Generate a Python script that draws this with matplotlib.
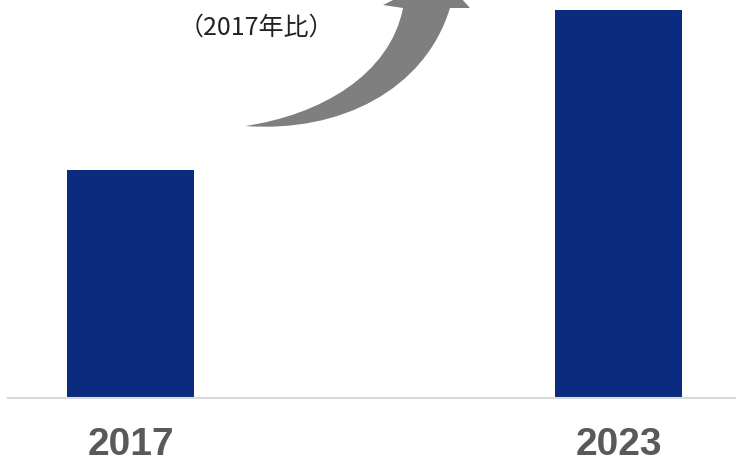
import numpy as np
import matplotlib.pyplot as plt
from matplotlib.path import Path
from matplotlib.patches import PathPatch

years = ['2017', '2023']
values = [100, 170]
note = '（2017年比）'

W, H = 736, 459
fig = plt.figure(figsize=(W / 100, H / 100), dpi=100)

# main bar axes, baseline sits at y=398px from the top
ax = fig.add_axes([8 / W, 61 / H, (W - 8) / W, 398 / H])
x = np.arange(len(years))
ax.bar(x, values, width=0.26, color='#0b2c7e')
ax.set_xlim(-0.251, 1.241)
ax.set_ylim(0, max(values) * 398 / 388)
for s in ['top', 'left', 'right']:
    ax.spines[s].set_visible(False)
ax.spines['bottom'].set_color('#d9d9d9')
ax.spines['bottom'].set_linewidth(1.5)
ax.set_yticks([])
ax.set_xticks(x, years)
ax.tick_params(axis='x', length=0, pad=21)
for lab in ax.get_xticklabels():
    lab.set_fontfamily('Liberation Sans')
    lab.set_fontweight('bold')
    lab.set_fontsize(28)
    lab.set_color('#595959')

# overlay in pixel coords for the arrow and note
ov = fig.add_axes([0, 0, 1, 1])
ov.set_xlim(0, W)
ov.set_ylim(H, 0)
ov.axis('off')
ov.patch.set_alpha(0)

verts = [(245, 126), (340, 133), (425, 90), (450, 8),
         (470, 8), (441, -24), (383, 5), (403, 8),
         (390, 75), (320, 115), (245, 126), (245, 126)]
codes = [Path.MOVETO, Path.CURVE4, Path.CURVE4, Path.CURVE4,
         Path.LINETO, Path.LINETO, Path.LINETO, Path.LINETO,
         Path.CURVE4, Path.CURVE4, Path.CURVE4, Path.CLOSEPOLY]
ov.add_patch(PathPatch(Path(verts, codes), facecolor='#7f7f7f', edgecolor='none'))

ov.text(256, 28, note, fontsize=18, family=['Noto Sans CJK JP', 'DejaVu Sans'],
        ha='center', va='center', color='#222222')

fig.savefig('out.png', dpi=100)
